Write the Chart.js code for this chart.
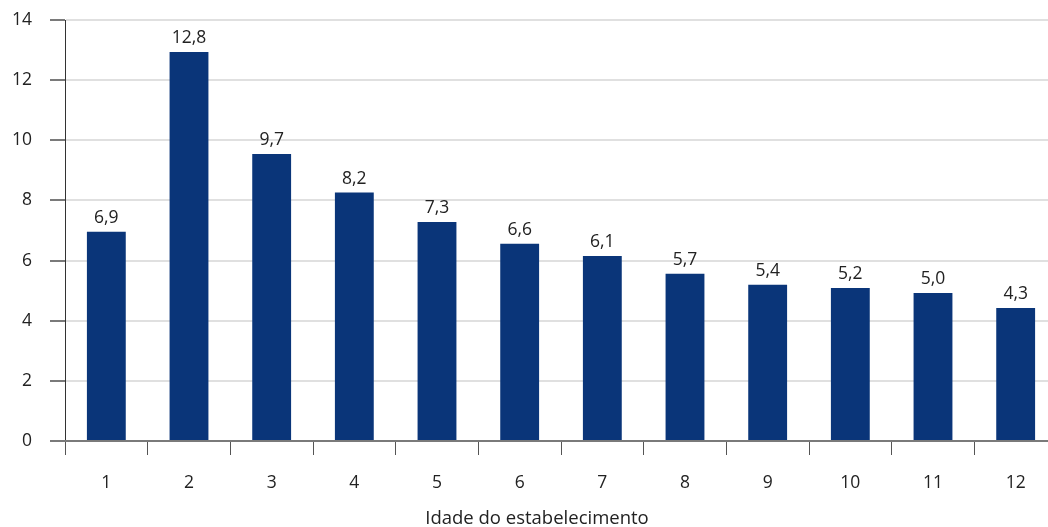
<!DOCTYPE html>
<html>
<head>
<meta charset="utf-8">
<script src="https://cdn.jsdelivr.net/npm/chart.js@4/dist/chart.umd.min.js"></script>
<style>
html,body{margin:0;padding:0;background:#fff;overflow:hidden;}
#wrap{width:1048px;height:527px;position:relative;overflow:hidden;}
#c{position:absolute;left:0;top:0;}
</style>
</head>
<body>
<div id="wrap"><canvas id="c" width="1057" height="527"></canvas></div>
<script>
const categories = ['1','2','3','4','5','6','7','8','9','10','11','12'];
const barValues = [6.96, 12.94, 9.54, 8.26, 7.28, 6.56, 6.15, 5.56, 5.20, 5.09, 4.92, 4.42];
const valueLabels = ['6,9','12,8','9,7','8,2','7,3','6,6','6,1','5,7','5,4','5,2','5,0','4,3'];
const yTicks = [0, 2, 4, 6, 8, 10, 12, 14];
const xTitle = 'Idade do estabelecimento';

const FONT = '"Open Sans", "Noto Sans", sans-serif';

const labelPlugin = {
  id: 'valueLabels',
  afterDatasetsDraw(chart) {
    const ctx = chart.ctx;
    const meta = chart.getDatasetMeta(0);
    ctx.save();
    ctx.font = '17.5px ' + FONT;
    ctx.fillStyle = '#222';
    ctx.textAlign = 'center';
    ctx.textBaseline = 'alphabetic';
    meta.data.forEach((bar, i) => {
      ctx.fillText(valueLabels[i], bar.x, bar.y - 9);
    });
    ctx.restore();
  }
};

const titlePlugin = {
  id: 'axisTitle',
  afterDraw(chart) {
    const ctx = chart.ctx;
    ctx.save();
    ctx.font = '18.5px ' + FONT;
    ctx.fillStyle = '#222';
    ctx.textAlign = 'center';
    ctx.textBaseline = 'alphabetic';
    ctx.fillText(xTitle, 537, 524);
    ctx.restore();
  }
};

new Chart(document.getElementById('c'), {
  type: 'bar',
  data: {
    labels: categories,
    datasets: [{
      data: barValues,
      backgroundColor: '#0a3579',
      categoryPercentage: 1,
      barPercentage: 0.47
    }]
  },
  options: {
    responsive: false,
    animation: false,
    devicePixelRatio: 1,
    layout: { padding: { top: 20, right: 0, left: 0, bottom: 0 } },
    plugins: { legend: { display: false }, tooltip: { enabled: false } },
    scales: {
      y: {
        min: 0, max: 14,
        afterBuildTicks(scale) { scale.ticks = yTicks.map(v => ({ value: v })); },
        afterFit(scale) { scale.width = 65; scale.paddingTop = 0; scale.paddingBottom = 0; },
        ticks: {
          font: { family: FONT, size: 17.5 },
          color: '#222',
          padding: 18,
          callback: v => String(v)
        },
        grid: {
          color: ctx => ctx.tick && ctx.tick.value === 0 ? '#7a7a7a' : '#e0e0e0',
          lineWidth: 2,
          tickColor: '#7a7a7a',
          tickLength: 15,
          tickWidth: 2
        },
        border: { display: true, color: '#333', width: 1 }
      },
      x: {
        afterFit(scale) { scale.height = 86; scale.paddingLeft = 0; scale.paddingRight = 0; },
        ticks: {
          font: { family: FONT, size: 17.5 },
          color: '#222',
          padding: 18
        },
        grid: {
          offset: true,
          drawOnChartArea: false,
          color: '#555',
          tickColor: '#555',
          tickLength: 14,
          lineWidth: 1
        },
        border: { display: true, color: '#7a7a7a', width: 2 },
        title: { display: false }
      }
    }
  },
  plugins: [labelPlugin, titlePlugin]
});
</script>
</body>
</html>
